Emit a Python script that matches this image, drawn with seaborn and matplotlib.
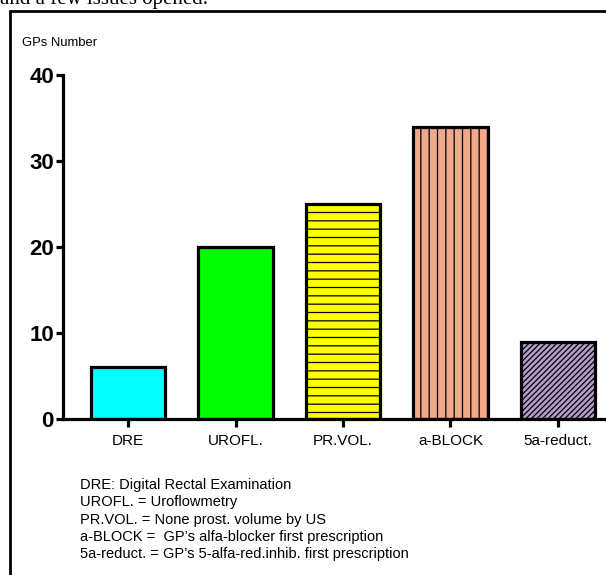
import matplotlib
matplotlib.use("Agg")
import matplotlib.pyplot as plt
import matplotlib.patches as mpatches
import pandas as pd
import seaborn as sns

# data
categories = ["DRE", "UROFL.", "PR.VOL.", "a-BLOCK", "5a-reduct."]
gps_number = [6, 20, 25, 34, 9]
bar_colors = ["#00FFFF", "#00FF00", "#FFFF00", "#F2A98A", "#B49DC9"]
bar_hatches = ["", "", "--", "||", "//////"]
notes = [
    "DRE: Digital Rectal Examination",
    "UROFL. = Uroflowmetry",
    "PR.VOL. = None prost. volume by US",
    "a-BLOCK =  GP\u2019s alfa-blocker first prescription",
    "5a-reduct. = GP\u2019s 5-alfa-red.inhib. first prescription",
]

df = pd.DataFrame({"cat": categories, "n": gps_number})

sns.set_theme(style="ticks")
plt.rcParams["font.family"] = ["Liberation Sans", "DejaVu Sans"]
plt.rcParams["text.color"] = "black"
plt.rcParams["xtick.labelcolor"] = "black"
plt.rcParams["ytick.labelcolor"] = "black"
plt.rcParams["hatch.linewidth"] = 0.9
plt.rcParams["hatch.color"] = "#555555"

fig = plt.figure(figsize=(6.06, 5.75), dpi=100)
ax = fig.add_axes([63 / 606, (575 - 419) / 575, 1 - 63 / 606, 344 / 575])

sns.barplot(data=df, x="cat", y="n", hue="cat", palette=bar_colors,
            width=0.69, edgecolor="black", linewidth=2.3, legend=False,
            saturation=1, ax=ax)

for patch, h in zip(ax.patches, bar_hatches):
    patch.set_hatch(h)
    if hasattr(patch, "set_hatchcolor"):
        patch.set_hatchcolor("#555555")

ax.set_xlim(-0.605, 4.447)
ax.set_ylim(0, 40)
ax.set_yticks([0, 10, 20, 30, 40])
ax.set_xlabel("")
ax.set_ylabel("")
sns.despine(ax=ax)
for side in ["left", "bottom"]:
    ax.spines[side].set_linewidth(2.3)
    ax.spines[side].set_color("black")
ax.tick_params(axis="y", length=5, width=2.3, labelsize=16, pad=1.5, color="black")
ax.tick_params(axis="x", length=6, width=2.3, labelsize=11, pad=5, color="black")
for lbl in ax.get_yticklabels():
    lbl.set_fontweight("bold")

# y-axis title above the axis
fig.text(22 / 606, 1 - 43 / 575, "GPs Number", fontsize=9.4, va="center", ha="left")

# abbreviation notes
for i, line in enumerate(notes):
    fig.text(80 / 606, 1 - (485 + i * 17.3) / 575, line, fontsize=10.5,
             va="center", ha="left")

# clipped caption text at the very top
fig.text(0.0, 1 - 4 / 575, "and a few issues opened.", fontsize=15,
         family=["Liberation Serif", "DejaVu Serif"], va="baseline", ha="left")

# panel frame (open on right and bottom)
frame = mpatches.Rectangle((10 / 606, -0.05), 1.2, 1 - 11 / 575 + 0.05,
                           transform=fig.transFigure, fill=False,
                           edgecolor="black", linewidth=2.0, clip_on=False)
fig.add_artist(frame)

fig.savefig("out.png", dpi=100)
